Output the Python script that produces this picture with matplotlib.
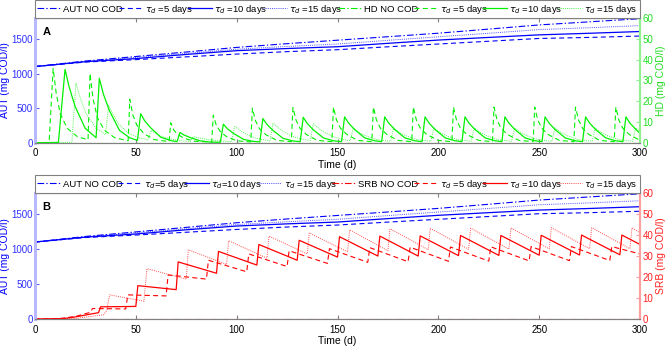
import matplotlib.pyplot as plt

plt.rcParams['font.family'] = ['Liberation Sans', 'DejaVu Sans']
plt.rcParams['font.size'] = 7

# ---- data ------------------------------------------------------------------
# AUT (left axis, mg COD/l), same in both panels
aut_t = [0, 25, 50, 75, 100, 125, 150, 175, 200, 225, 250, 275, 300]
aut_nocod = [1100, 1180, 1245, 1310, 1376, 1430, 1480, 1530, 1581, 1640, 1700, 1745, 1790]
aut_5 = [1100, 1165, 1200, 1240, 1280, 1315, 1343, 1385, 1425, 1465, 1505, 1520, 1540]
aut_10 = [1100, 1170, 1215, 1275, 1329, 1360, 1386, 1435, 1482, 1520, 1557, 1580, 1605]
aut_15 = [1100, 1175, 1232, 1290, 1350, 1390, 1425, 1478, 1529, 1580, 1633, 1660, 1690]

# HD (panel A, right axis), (time, value) pairs
hd_nocod = [(0, 0.1), (100, 0.1), (200, 0.1), (300, 0.1)]
hd5 = [(0, 0.1), (7.0, 0.2), (9.0, 35.7), (10.5, 24.0), (12.5, 14.0), (16.0, 7.0), (21.0, 3.0), (26.3, 1.5),
       (27.3, 33.3), (28.8, 21.0), (31.0, 12.0), (34.5, 6.0), (39.5, 2.5), (46.2, 1.0),
       (47.0, 21.0), (48.5, 13.5), (50.5, 8.5), (54.0, 4.5), (59.0, 1.6), (66.5, 0.6),
       (67.3, 9.7), (68.8, 6.2), (70.8, 4.0), (74.0, 2.2), (79.0, 0.8), (87.6, 0.4),
       (88.4, 13.3), (89.9, 8.5), (91.9, 5.4), (95.0, 3.0), (100.0, 1.0), (107.0, 0.5),
       (107.8, 16.7), (109.3, 10.7), (111.3, 6.8), (114.5, 3.9), (120.0, 1.2), (127.1, 0.6),
       (127.9, 17.0), (129.4, 11.0), (131.4, 7.0), (134.6, 4.0), (140.0, 1.2), (147.2, 0.6),
       (148.0, 17.2), (149.5, 11.0), (151.5, 7.0), (154.7, 4.0), (160.0, 1.2), (167.0, 0.6),
       (167.8, 17.2), (169.3, 11.0), (171.3, 7.0), (174.5, 4.0), (180.0, 1.2), (186.8, 0.6),
       (187.6, 17.2), (189.1, 11.0), (191.1, 7.0), (194.3, 4.0), (200.0, 1.2), (206.7, 0.6),
       (207.5, 17.2), (209.0, 11.0), (211.0, 7.0), (214.2, 4.0), (220.0, 1.2), (226.8, 0.6),
       (227.6, 17.2), (229.1, 11.0), (231.1, 7.0), (234.3, 4.0), (240.0, 1.2), (247.0, 0.6),
       (247.8, 17.2), (249.3, 11.0), (251.3, 7.0), (254.5, 4.0), (260.0, 1.2), (267.2, 0.6),
       (268.0, 17.2), (269.5, 11.0), (271.5, 7.0), (274.7, 4.0), (280.0, 1.2), (287.2, 0.6),
       (288.0, 17.2), (289.5, 11.0), (291.5, 7.0), (294.7, 4.0), (300.0, 1.2)]
hd10 = [(0, 0.1), (11.6, 0.2), (14.9, 35.3), (16.9, 27.0), (19.9, 17.5), (24.9, 7.0), (30.3, 2.5),
        (31.9, 31.0), (33.9, 23.5), (36.9, 15.5), (41.9, 6.0), (46.9, 2.5), (50.8, 1.2),
        (52.4, 14.0), (54.4, 10.6), (57.4, 7.2), (62.4, 2.7), (67.4, 1.1), (70.4, 0.6),
        (71.9, 5.0), (73.9, 3.8), (76.9, 2.6), (81.9, 1.0), (86.9, 0.4), (91.9, 0.3),
        (93.4, 9.0), (95.4, 6.8), (98.4, 4.6), (103.4, 1.7), (108.4, 0.7), (111.5, 0.5),
        (113.0, 11.7), (115.0, 8.9), (118.0, 6.0), (123.0, 2.2), (128.0, 0.9), (131.5, 0.6),
        (133.0, 12.3), (135.0, 9.3), (138.0, 6.3), (143.0, 2.4), (148.0, 1.0), (152.0, 0.6),
        (153.5, 12.5), (155.5, 9.5), (158.5, 6.4), (163.5, 2.4), (168.5, 1.0), (171.9, 0.6),
        (173.4, 12.5), (175.4, 9.5), (178.4, 6.4), (183.4, 2.4), (188.4, 1.0), (191.9, 0.6),
        (193.4, 12.5), (195.4, 9.5), (198.4, 6.4), (203.4, 2.4), (208.4, 1.0), (211.7, 0.6),
        (213.2, 12.5), (215.2, 9.5), (218.2, 6.4), (223.2, 2.4), (228.2, 1.0), (231.5, 0.6),
        (233.0, 12.5), (235.0, 9.5), (238.0, 6.4), (243.0, 2.4), (248.0, 1.0), (251.4, 0.6),
        (252.9, 12.5), (254.9, 9.5), (257.9, 6.4), (262.9, 2.4), (267.9, 1.0), (271.5, 0.6),
        (273.0, 12.5), (275.0, 9.5), (278.0, 6.4), (283.0, 2.4), (288.0, 1.0), (291.5, 0.6),
        (293.0, 12.5), (295.0, 9.5), (298.0, 6.4), (300.0, 4.6)]
hd15 = [(0, 0.1), (18.3, 0.3), (20.3, 28.7), (22.3, 22.0), (25.3, 14.0), (30.3, 7.0), (35.0, 4.0),
        (36.5, 18.0), (38.5, 14.0), (41.5, 9.0), (46.5, 4.5), (51.5, 2.5), (56.0, 1.5),
        (57.5, 6.0), (59.5, 4.8), (62.5, 3.2), (67.5, 1.8), (72.5, 1.0), (77.0, 0.7),
        (78.5, 3.0), (80.5, 2.6), (83.5, 2.0), (88.5, 1.2), (93.5, 0.8), (97.5, 0.6),
        (99.0, 7.9), (101.0, 6.5), (104.0, 4.5), (109.0, 2.4), (114.0, 1.4), (116.5, 1.0),
        (118.0, 9.5), (120.0, 7.8), (123.0, 5.5), (128.0, 3.0), (133.0, 1.7), (136.5, 1.2),
        (138.0, 9.2), (140.0, 7.5), (143.0, 5.3), (148.0, 2.9), (153.0, 1.6), (156.3, 1.0),
        (157.8, 7.2), (160.8, 5.0), (163.8, 3.5), (169.8, 1.5), (176.3, 0.8),
        (177.8, 7.2), (180.8, 5.0), (183.8, 3.5), (189.8, 1.5), (196.3, 0.8),
        (197.8, 7.2), (200.8, 5.0), (203.8, 3.5), (209.8, 1.5), (216.3, 0.8),
        (217.8, 7.2), (220.8, 5.0), (223.8, 3.5), (229.8, 1.5), (236.3, 0.8),
        (237.8, 7.2), (240.8, 5.0), (243.8, 3.5), (249.8, 1.5), (256.3, 0.8),
        (257.8, 7.2), (260.8, 5.0), (263.8, 3.5), (269.8, 1.5), (276.3, 0.8),
        (277.8, 7.2), (280.8, 5.0), (283.8, 3.5), (289.8, 1.5), (296.3, 0.8),
        (297.8, 7.2), (300.0, 5.5)]

# SRB (panel B, right axis), (time, value) pairs
srb_nocod = [(0, 0.2), (100, 0.2), (200, 0.2), (300, 0.2)]
srb10 = [(0, 0), (14, 0.2), (20, 1.0), (29, 2.6), (31.5, 3.0), (32.5, 5.8), (50.0, 6.0),
         (51.0, 15.9), (70.0, 14.0), (71.0, 27.2), (90.0, 21.8), (91.0, 32.2),
         (110.0, 25.7), (111.0, 35.5), (130.0, 28.0), (131.0, 37.5), (150.0, 29.5),
         (151.0, 39.2), (170.0, 30.0), (171.0, 39.5), (190.0, 30.0), (191.0, 39.6),
         (210.0, 30.2), (211.0, 39.8), (230.0, 30.3), (231.0, 39.8), (250.0, 30.4),
         (251.0, 39.9), (270.0, 30.5), (271.0, 40.0), (290.0, 30.6), (291.0, 40.0), (300.0, 35.5)]
srb5 = [(0, 0), (12, 0.2), (20, 1.2), (26, 2.8), (27.5, 3.2), (28.5, 5.0), (45.0, 4.8),
        (46.0, 11.5), (65.0, 11.0), (66.0, 21.0), (85.0, 19.0), (86.0, 28.0),
        (105.0, 22.5), (106.0, 31.0), (125.0, 25.0), (126.0, 32.5), (145.0, 26.5),
        (146.0, 33.5), (165.0, 27.0), (166.0, 34.0), (185.0, 27.3), (186.0, 34.2),
        (205.0, 27.5), (206.0, 34.3), (225.0, 27.6), (226.0, 34.4), (245.0, 27.7),
        (246.0, 34.5), (265.0, 27.8), (266.0, 34.5), (285.0, 27.9), (286.0, 34.5), (300.0, 31.0)]
srb15 = [(0, 0), (20, 0.3), (34, 2.0), (35.5, 4.0), (37.0, 11.5), (54.0, 8.5), (55.5, 24.0),
         (75.0, 19.0), (76.0, 33.0), (95.0, 26.0), (96.0, 37.3), (115.0, 29.0), (116.0, 39.5),
         (135.0, 31.0), (136.0, 41.0), (155.0, 32.0), (156.0, 42.5), (175.0, 32.5),
         (176.0, 43.0), (195.0, 33.0), (196.0, 43.2), (215.0, 33.2), (216.0, 43.3),
         (235.0, 33.3), (236.0, 43.4), (255.0, 33.4), (256.0, 43.5), (275.0, 33.5),
         (276.0, 43.5), (295.0, 33.5), (296.0, 43.5), (300.0, 41.0)]

BLUE = '#0000ff'
GREEN = '#00f000'
RED = '#ff0000'

# MATLAB-like line styles: no cod, tau=5, tau=10, tau=15
STYLES = [dict(ls=(0, (6, 2, 1.2, 2)), lw=0.8, alpha=1.0),
          dict(ls=(0, (4.5, 3)), lw=0.8, alpha=1.0),
          dict(ls='-', lw=0.9, alpha=1.0),
          dict(ls=(0, (1, 1.2)), lw=0.7, alpha=0.7)]


def draw_panel(rect, letter, right_name, right_color, right_tick, right_spine,
               right_data, tight_tau):
    ax = fig.add_axes(rect)
    ax2 = ax.twinx()

    aut_series = [aut_nocod, aut_5, aut_10, aut_15]
    handles = []
    for st, vals in zip(STYLES, aut_series):
        h, = ax.plot(aut_t, vals, color=BLUE, **st)
        handles.append(h)
    for st, pts in zip(STYLES, right_data):
        t, vals = zip(*pts)
        h, = ax2.plot(t, vals, color=right_color, **st)
        handles.append(h)

    ax.set_xlim(0, 300)
    ax.set_ylim(0, 1800)
    ax2.set_ylim(0, 60)
    ax.set_xticks([0, 50, 100, 150, 200, 250, 300])
    ax.set_yticks([0, 500, 1000, 1500])
    ax2.set_yticks([0, 10, 20, 30, 40, 50, 60])

    ax.tick_params(axis='x', direction='in', length=3, top=True, color='#808080',
                   labelsize=7, pad=4)
    ax.tick_params(axis='y', direction='in', length=3, color='#6060ff',
                   labelcolor='#3030ff', labelsize=7, pad=1.5)
    ax2.tick_params(axis='y', direction='in', length=3, color=right_spine,
                    labelcolor=right_tick, labelsize=7, pad=2)
    for a in (ax, ax2):
        a.spines['top'].set_color('#808080')
        a.spines['bottom'].set_color('#808080')
        a.spines['left'].set_color('#b8b8ff')
        a.spines['left'].set_linewidth(2.0)
        a.spines['right'].set_color(right_spine)
        a.spines['right'].set_linewidth(1.5)

    ax.set_ylabel('AUT (mg COD/l)', color=BLUE, fontsize=7.5, labelpad=1)
    ax2.set_ylabel(f'{right_name} (mg COD/l)', color=right_tick, fontsize=7.5, labelpad=2)
    ax.set_xlabel('Time (d)', fontsize=7.5, labelpad=1)
    ax.text(0.012, 0.93, letter, transform=ax.transAxes, fontsize=8,
            fontweight='bold', va='top')

    sep = '' if tight_tau else ' '
    labels = ['AUT NO COD', r'$\tau_d$' + sep + '=5 days', r'$\tau_d$' + sep + '=10 days',
              r'$\tau_d$ =15 days',
              f'{right_name} NO COD', r'$\tau_d$ =5 days', r'$\tau_d$ =10 days',
              r'$\tau_d$ =15 days']
    leg = ax2.legend(handles, labels, ncol=8, loc='lower left',
                     bbox_to_anchor=(0, 1.0, 1, 0.13), mode='expand',
                     borderaxespad=0, fontsize=6.8, handlelength=2.5,
                     handletextpad=0.25, columnspacing=0.4, fancybox=False,
                     framealpha=1, edgecolor='#808080', borderpad=0.25)
    leg.get_frame().set_linewidth(0.8)


fig = plt.figure(figsize=(6.69, 3.46), dpi=100)

draw_panel([0.0523, 0.587, 0.9044, 0.361], 'A', 'HD', GREEN, '#22dd22', '#90f090',
           [hd_nocod, hd5, hd10, hd15], False)
draw_panel([0.0523, 0.078, 0.9044, 0.364], 'B', 'SRB', RED, '#ff2020', '#ffa0a0',
           [srb_nocod, srb5, srb10, srb15], True)

fig.savefig('out.png', dpi=100)
